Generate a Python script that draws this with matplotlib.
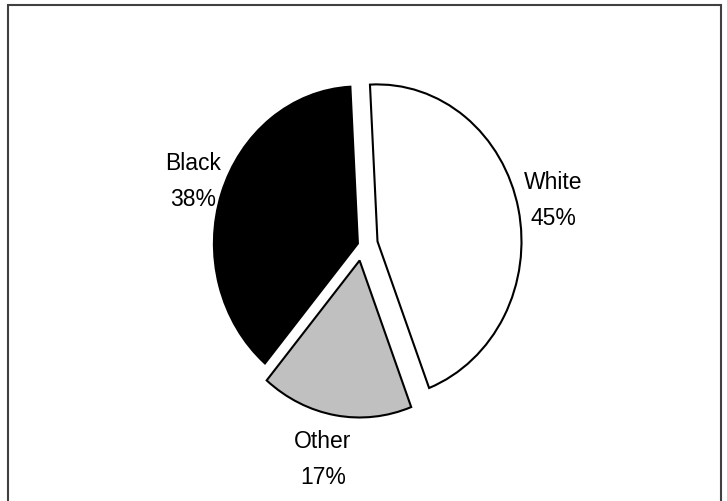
import matplotlib.pyplot as plt
from matplotlib.patches import Rectangle

# share of each group, clockwise from the top
groups = ['White', 'Other', 'Black']
shares = [45, 17, 38]
colors = ['white', '#c0c0c0', 'black']
explode = [0.11, 0.10, 0.03]

fig = plt.figure(figsize=(7.27, 5.02), dpi=100)
ax = fig.add_axes([0, 0, 1, 1])

wedges, _ = ax.pie(shares, colors=colors, explode=explode, startangle=93,
                   counterclock=False,
                   wedgeprops=dict(edgecolor='black', linewidth=1.5))

# stretch the pie a bit taller than wide
ax.set_aspect('auto')
ax.set_xlim(-362 / 144, (727 - 362) / 144)
ax.set_ylim((246 - 502) / 157, 246 / 157)
ax.axis('off')

# label spots (data units)
label_xy = {'White': (1.326, 0.29), 'Other': (-0.271, -1.36), 'Black': (-1.174, 0.41)}
for g, s in zip(groups, shares):
    x, y = label_xy[g]
    ax.text(x, y, f'{g}\n{s}%', ha='center', va='center', fontsize=16.5,
            linespacing=1.7, family='Liberation Sans')

# outer border
fig.add_artist(Rectangle((8 / 727, -0.05), (721 - 8) / 727, 1 - 6 / 502 + 0.05,
                         transform=fig.transFigure, fill=False,
                         edgecolor='#404040', linewidth=1.5, clip_on=False))

fig.savefig('out.png', dpi=100)
